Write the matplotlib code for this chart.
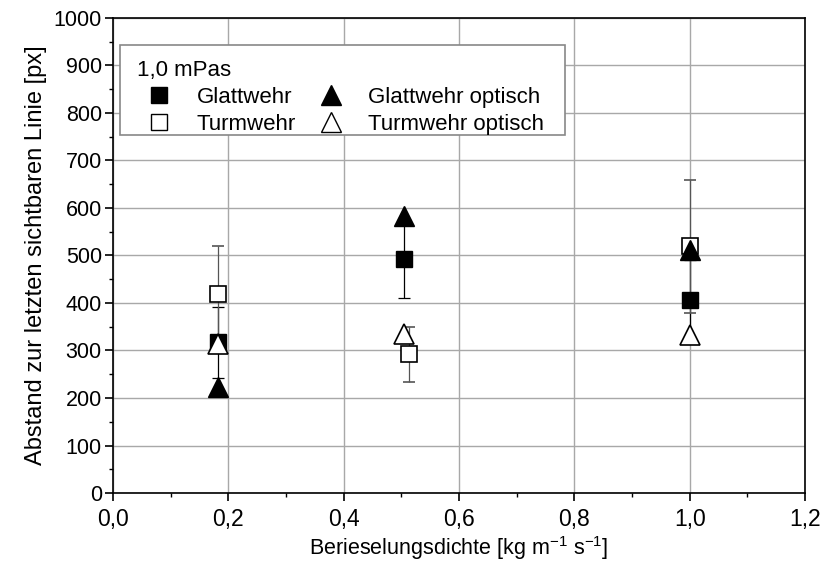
import matplotlib
matplotlib.use('Agg')
import matplotlib.pyplot as plt
from matplotlib.lines import Line2D
from matplotlib.patches import Rectangle
from matplotlib.ticker import MultipleLocator, FuncFormatter

# data
x_glatt = [0.182, 0.505, 1.0]
y_glatt = [317, 492, 406]
err_glatt = [74, 81, 84]

x_turm = [0.182, 0.514, 1.0]
y_turm = [419, 292, 519]
err_turm = [100, 58, 140]

x_glatt_opt = [0.182, 0.505, 1.0]
y_glatt_opt = [223, 583, 512]

x_turm_opt = [0.182, 0.505, 1.0]
y_turm_opt = [313, 334, 332]

legend_title = "1,0 mPas"
labels = ["Glattwehr", "Turmwehr", "Glattwehr optisch", "Turmwehr optisch"]

plt.rcParams['font.family'] = ['Liberation Sans', 'DejaVu Sans']
plt.rcParams['mathtext.fontset'] = 'custom'
plt.rcParams['mathtext.rm'] = 'Liberation Sans'

fig = plt.figure(figsize=(8.21, 5.78), dpi=100)
ax = fig.add_axes([0.1376, 0.147, 0.843, 0.822])

grid_col = '#a8a8a8'
ax.set_axisbelow(True)
ax.grid(True, which='major', color=grid_col, linewidth=1.0)

ax.errorbar(x_glatt, y_glatt, yerr=err_glatt, fmt='s', color='black', ms=11,
            mfc='black', mec='black', ecolor='black', elinewidth=0.9,
            capsize=4, capthick=0.9, zorder=3)
ax.errorbar(x_turm, y_turm, yerr=err_turm, fmt='s', color='black', ms=11,
            mfc='white', mec='black', mew=1.2, ecolor='#555555', elinewidth=0.9,
            capsize=4, capthick=0.9, zorder=3)
ax.plot(x_glatt_opt, y_glatt_opt, '^', ms=15, mfc='black', mec='black', zorder=4)
ax.plot(x_turm_opt, y_turm_opt, '^', ms=15, mfc='white', mec='black', mew=1.2, zorder=4)

ax.set_xlim(0, 1.2)
ax.set_ylim(0, 1000)
ax.xaxis.set_major_locator(MultipleLocator(0.2))
ax.xaxis.set_minor_locator(MultipleLocator(0.1))
ax.yaxis.set_major_locator(MultipleLocator(100))
ax.yaxis.set_minor_locator(MultipleLocator(50))
ax.xaxis.set_major_formatter(FuncFormatter(lambda v, p: f"{v:.1f}".replace('.', ',')))

ax.tick_params(which='major', direction='out', length=6, width=1.2, colors='black')
ax.tick_params(axis='y', which='major', labelsize=15.5, pad=2)
ax.tick_params(axis='x', which='major', labelsize=16.5, pad=5)
ax.tick_params(which='minor', direction='out', length=3, width=1.0)
for s in ax.spines.values():
    s.set_linewidth(1.2)

ax.set_xlabel("Berieselungsdichte [kg m$^{\\mathregular{-1}}$ s$^{\\mathregular{-1}}$]",
              fontsize=15.5, labelpad=2)
ax.set_ylabel("Abstand zur letzten sichtbaren Linie [px]", fontsize=17, labelpad=5)

# legend frame drawn by hand (padding differs horizontally / vertically)
ax.add_patch(Rectangle((0.0101, 0.7537), 0.643, 0.1895, transform=ax.transAxes,
                       facecolor='white', edgecolor='#888888', linewidth=1.2, zorder=4.9))

handles = [
    Line2D([], [], ls='none', marker='s', ms=11, mfc='black', mec='black'),
    Line2D([], [], ls='none', marker='s', ms=11, mfc='white', mec='black', mew=1.0),
    Line2D([], [], ls='none', marker='^', ms=15, mfc='black', mec='black'),
    Line2D([], [], ls='none', marker='^', ms=15, mfc='white', mec='black', mew=1.0),
]
leg = ax.legend(handles, labels, title=legend_title, ncol=2, loc='upper left',
                bbox_to_anchor=(0.0347, 0.912), borderaxespad=0, borderpad=0,
                fontsize=16, title_fontsize=16, frameon=False,
                handlelength=2.0, handletextpad=0.7, columnspacing=0.55,
                labelspacing=0.28, alignment='left')
leg.set_zorder(5)

fig.savefig('out.png', dpi=100)
